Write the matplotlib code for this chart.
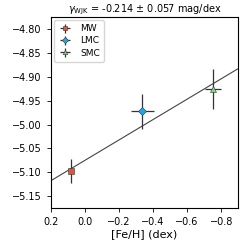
import matplotlib
matplotlib.use("Agg")
import matplotlib.pyplot as plt
import numpy as np

labels = ["MW", "LMC", "SMC"]
feh = [0.085, -0.337, -0.75]
feh_err = [0.012, 0.066, 0.046]
mag = [-5.097, -4.972, -4.925]
mag_err = [0.025, 0.037, 0.042]
colors = ["#e8503a", "#1ea7e4", "#7fdc7f"]
markers = ["s", "D", "^"]
slope = -0.214
slope_err = 0.057
intercept = -5.075

fig = plt.figure(figsize=(2.4, 2.4), dpi=100)
ax = fig.add_axes([0.2125, 0.132, 0.78, 0.797])

xx = np.array([0.2, -0.9])
ax.plot(xx, intercept + slope * xx, color="#444444", lw=0.8, zorder=1)

for lab, x, xe, y, ye, c, m in zip(labels, feh, feh_err, mag, mag_err, colors, markers):
    ax.errorbar(x, y, xerr=xe, yerr=ye, fmt=m, color="#333333", mfc=c, mec="#333333",
                mew=0.4, ms=4, elinewidth=0.9, capsize=0, label=lab, zorder=3)

ax.set_xlim(0.2, -0.9)
ax.set_ylim(-5.176, -4.774)
ax.set_xticks([0.2, 0.0, -0.2, -0.4, -0.6, -0.8])
ax.set_yticks([-4.80, -4.85, -4.90, -4.95, -5.00, -5.05, -5.10, -5.15])
ax.tick_params(labelsize=7, length=3, width=0.6)
for s in ax.spines.values():
    s.set_linewidth(0.8)
ax.set_xlabel("[Fe/H] (dex)", fontsize=8, labelpad=1)
ax.set_title(r"$\gamma_{\rm WJK}$ = %.3f ± %.3f mag/dex" % (slope, slope_err), fontsize=7, pad=3)
ax.legend(loc="upper left", fontsize=6.5, markerscale=0.8, handlelength=1.5,
          borderpad=0.5, labelspacing=0.35, handletextpad=0.9, borderaxespad=0.3)

fig.savefig("out.png", dpi=100)
